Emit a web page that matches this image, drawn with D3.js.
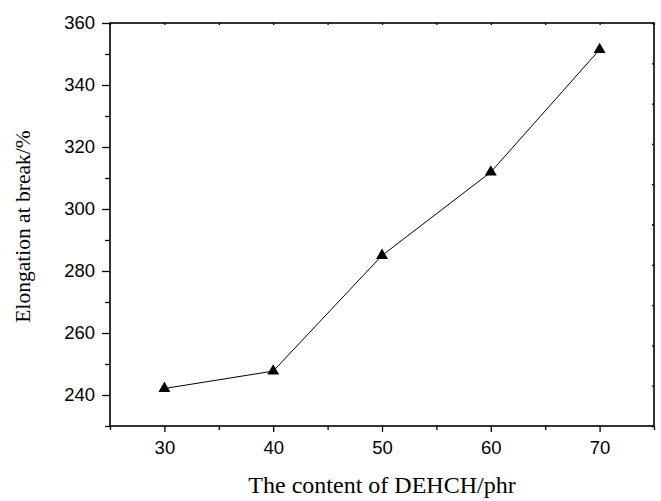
<!DOCTYPE html>
<html>
<head>
<meta charset="utf-8">
<script src="https://cdn.jsdelivr.net/npm/d3@7"></script>
<style>
body{margin:0;background:#fff}
.axisTitle{font-family:"Liberation Serif","Times New Roman",serif;fill:#000}
</style>
</head>
<body>
<div id="chart"></div>
<script>
// data
let content=[30,40,50,60,70]
let elongation=[242.1,247.7,285.0,311.9,351.4]
let xTicks=[30,40,50,60,70]
let yTicks=[240,260,280,300,320,340,360]

let svgWidth=661
let svgHeight=501
let margin={top:23,right:7,bottom:75,left:110}
let chartWidth=svgWidth-margin.left-margin.right
let chartHeight=svgHeight-margin.top-margin.bottom

let svg=d3.select("#chart")
  .append("svg")
  .attr("width",svgWidth)
  .attr("height",svgHeight)
let chartGroup=svg.append("g")
  .attr("transform",`translate(${margin.left},${margin.top})`)

// scales
let x=d3.scaleLinear().domain([25,75]).range([0,chartWidth])
let y=d3.scaleLinear().domain([230,360]).range([chartHeight,0])

// minor ticks first
chartGroup.append("g")
  .attr("transform",`translate(0,${chartHeight})`)
  .call(d3.axisBottom(x).tickValues([25,35,45,55,65,75]).tickSize(4).tickFormat(""))
chartGroup.append("g")
  .call(d3.axisLeft(y).tickValues([230,250,270,290,310,330,350]).tickSize(5).tickFormat(""))
// top / right small inner ticks
chartGroup.append("g")
  .call(d3.axisBottom(x).tickValues(d3.range(25,76,5)).tickSize(2).tickFormat(""))
chartGroup.append("g")
  .attr("transform",`translate(${chartWidth},0)`)
  .call(d3.axisLeft(y).tickValues(d3.range(230,361,13)).tickSize(2).tickFormat(""))

// major axes
chartGroup.append("g")
  .attr("transform",`translate(0,${chartHeight})`)
  .call(d3.axisBottom(x).tickValues(xTicks).tickSize(6).tickPadding(9))
chartGroup.append("g")
  .call(d3.axisLeft(y).tickValues(yTicks).tickSize(8).tickPadding(7))

chartGroup.selectAll(".domain").remove()
chartGroup.selectAll(".tick line").attr("stroke","#000").attr("stroke-width",1.3)
chartGroup.selectAll(".tick text")
  .attr("fill","#000")
  .style("font-family","'Liberation Sans',Arial,sans-serif")
  .style("font-size","18.5px")

// frame
chartGroup.append("rect")
  .attr("width",chartWidth)
  .attr("height",chartHeight)
  .attr("fill","none")
  .attr("stroke","#000")
  .attr("stroke-width",1.6)

// line + markers
let line=d3.line().x((d,i)=>x(content[i])).y(d=>y(d))
chartGroup.append("path")
  .datum(elongation)
  .attr("d",line)
  .attr("fill","none")
  .attr("stroke","#000")
  .attr("stroke-width",1)

chartGroup.selectAll(".pt")
  .data(elongation)
  .enter()
  .append("path")
  .attr("class","pt")
  .attr("d",d3.symbol().type(d3.symbolTriangle).size(62))
  .attr("transform",(d,i)=>`translate(${x(content[i])},${y(d)})`)
  .attr("fill","#000")

// axis titles
chartGroup.append("text")
  .attr("class","axisTitle")
  .attr("font-size","24px")
  .attr("text-anchor","middle")
  .attr("x",chartWidth/2)
  .attr("y",chartHeight+67)
  .text("The content of DEHCH/phr")
chartGroup.append("text")
  .attr("class","axisTitle")
  .attr("font-size","21.5px")
  .attr("text-anchor","middle")
  .attr("transform","rotate(-90)")
  .attr("x",-chartHeight/2-2)
  .attr("y",-80)
  .text("Elongation at break/%")
</script>
</body>
</html>
